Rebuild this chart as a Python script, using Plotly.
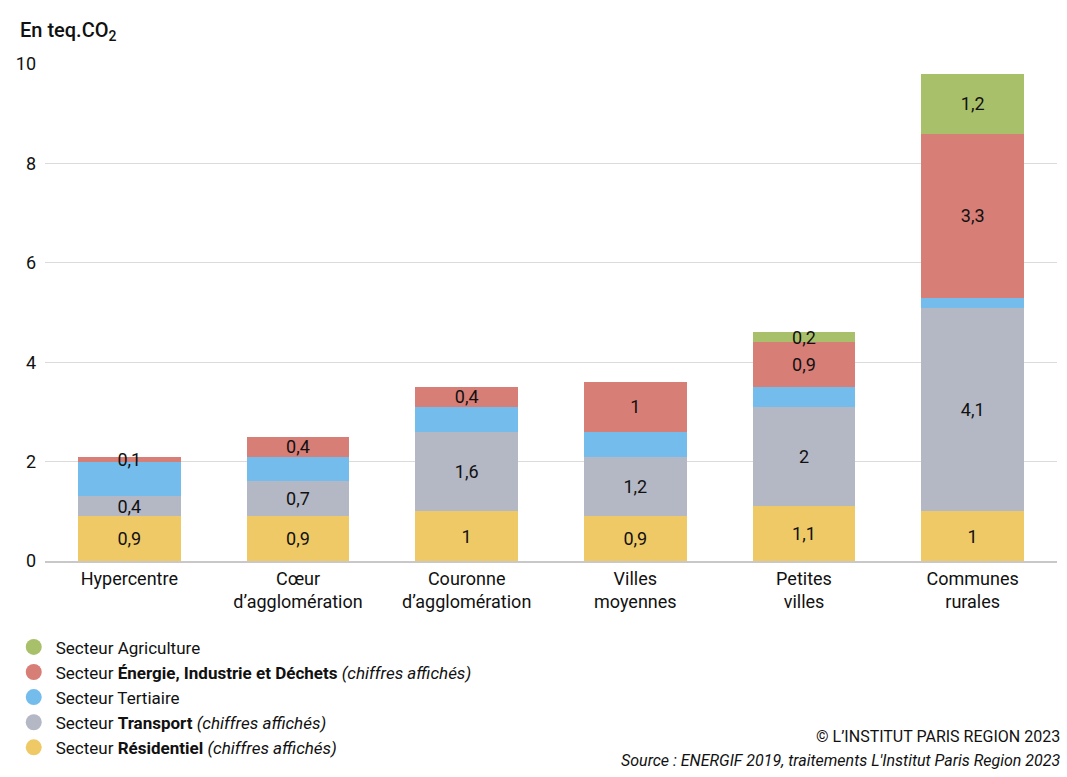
import plotly.graph_objects as go

categories = ["Hypercentre", "Cœur<br>d’agglomération", "Couronne<br>d’agglomération",
              "Villes<br>moyennes", "Petites<br>villes", "Communes<br>rurales"]
residentiel = [0.9, 0.9, 1.0, 0.9, 1.1, 1.0]
transport = [0.4, 0.7, 1.6, 1.2, 2.0, 4.1]
tertiaire = [0.7, 0.5, 0.5, 0.5, 0.4, 0.2]
energie = [0.1, 0.4, 0.4, 1.0, 0.9, 3.3]
agriculture = [0.0, 0.0, 0.0, 0.0, 0.2, 1.2]

series = [
    ("Secteur <b>Résidentiel</b> <i>(chiffres affichés)</i>", residentiel, "#efc966", True),
    ("Secteur <b>Transport</b> <i>(chiffres affichés)</i>", transport, "#b4b7c4", True),
    ("Secteur Tertiaire", tertiaire, "#74bcec", False),
    ("Secteur <b>Énergie, Industrie et Déchets</b> <i>(chiffres affichés)</i>", energie, "#d77e77", True),
    ("Secteur Agriculture", agriculture, "#a9c06a", True),
]

FONT = "Roboto, Arial, sans-serif"

def fmt(v):
    return ("%g" % v).replace(".", ",")

fig = go.Figure()
for name, vals, color, show in series:
    texts = [fmt(v) if (show and v > 0) else "" for v in vals]
    fig.add_trace(go.Bar(
        x=categories, y=vals, name=name, marker=dict(color=color, line=dict(width=0)),
        text=texts, textposition="inside", insidetextanchor="middle",
        textfont=dict(family=FONT, size=18, color="#111111"),
        showlegend=False, hoverinfo="skip",
    ))
# legend entries with circle markers
for name, vals, color, show in series:
    fig.add_trace(go.Scatter(
        x=[None], y=[None], mode="markers", name=name,
        marker=dict(symbol="circle", size=18, color=color),
    ))

fig.update_layout(
    barmode="stack",
    bargap=0.39,
    width=1067, height=777,
    paper_bgcolor="white", plot_bgcolor="white",
    margin=dict(l=45, r=10, t=64, b=216, autoexpand=False),
    font=dict(family=FONT, size=18, color="#111111"),
    uniformtext=dict(minsize=18, mode="show"),
    legend=dict(
        x=0.011, y=0.19, xref="container", yref="container", xanchor="left", yanchor="top",
        traceorder="reversed", font=dict(family=FONT, size=17, color="#111111"),
        itemsizing="trace", tracegroupgap=0, itemwidth=34,
        bgcolor="rgba(0,0,0,0)",
    ),
)
fig.add_annotation(text="En teq.CO<sub>2</sub>", xref="paper", yref="paper",
                   x=-0.027, y=1.066, xanchor="left", yanchor="middle", showarrow=False,
                   font=dict(family=FONT, size=20, color="#111111", weight=500))
fig.add_annotation(text="© L’INSTITUT PARIS REGION 2023", xref="paper", yref="paper",
                   x=1.005, y=-0.33, xanchor="right", yanchor="top", showarrow=False,
                   font=dict(family=FONT, size=16, color="#111111"))
fig.add_annotation(text="<i>Source : ENERGIF 2019, traitements L'Institut Paris Region 2023</i>",
                   xref="paper", yref="paper",
                   x=1.005, y=-0.378, xanchor="right", yanchor="top", showarrow=False,
                   font=dict(family=FONT, size=16, color="#111111"))

fig.update_yaxes(range=[0, 10], tickvals=[0, 2, 4, 6, 8, 10], ticktext=["0", "2", "4", "6", "8", "10"],
                 showgrid=True, gridcolor="rgba(0,0,0,0.14)", gridwidth=1,
                 zeroline=False, showline=False, ticks="", ticklabelstandoff=8,
                 tickfont=dict(family=FONT, size=18), layer="above traces")
fig.update_xaxes(showline=True, linecolor="#c8c8c8", linewidth=2, ticks="",
                 tickfont=dict(family=FONT, size=18), layer="above traces")

fig.write_html("out.html")
